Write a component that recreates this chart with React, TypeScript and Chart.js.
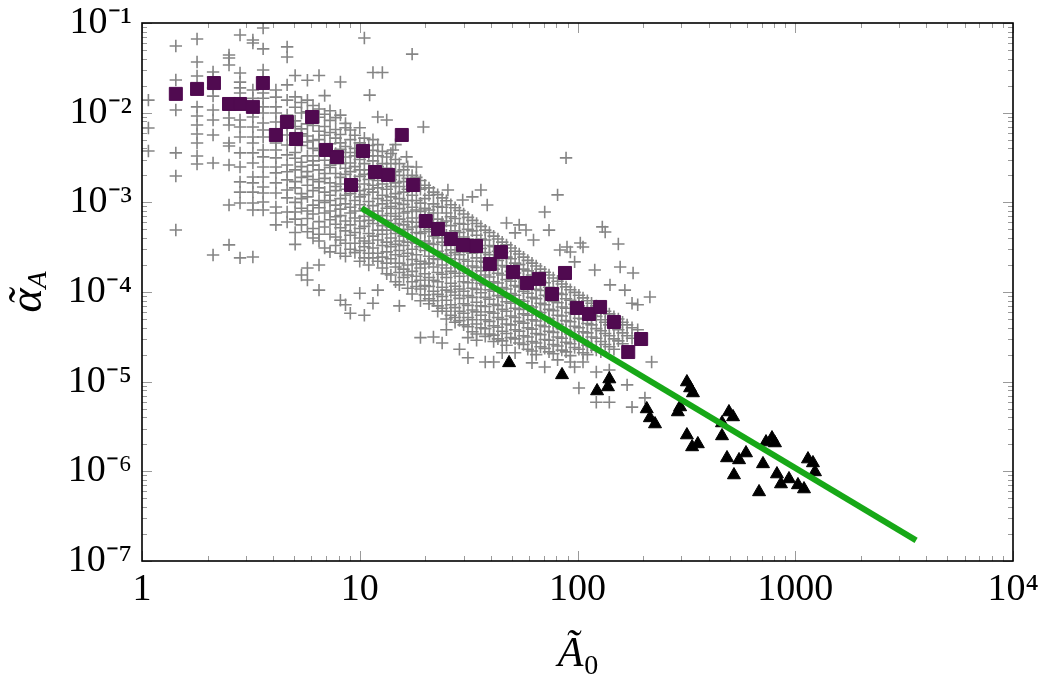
import React, { useEffect, useRef } from 'react';
import { Chart, registerables } from 'chart.js';

Chart.register(...registerables);

// ---------- axis ticks ----------
const xTickValues = [1, 10, 100, 1000, 10000];
const xTickLabels = ['1', '10', '100', '1000', '10⁴'];
const yTickValues = [1e-7, 1e-6, 1e-5, 1e-4, 1e-3, 1e-2, 1e-1];
const yTickLabels = ['10⁻⁷', '10⁻⁶', '10⁻⁵', '10⁻⁴', '10⁻³', '10⁻²', '10⁻¹'];

const xTitleMain = 'Ã';
const xTitleSub = '0';
const yTitleMain = 'α';
const yTitleAccent = '˜';
const yTitleSub = 'A';

// ---------- purple squares ----------
const squareA0 = [1.43, 1.79, 2.14, 2.51, 2.82, 3.23, 3.59, 4.12, 4.63, 5.1, 6.04, 7.0, 7.86, 10.35, 9.12, 11.75, 13.5, 15.6, 17.6, 20.1, 22.9, 26.2, 29.8, 34.2, 44.5, 39.6, 50.6, 58.6, 66.6, 87.6, 76.4, 99.5, 113, 127, 147, 196, 171];
const squareAlpha = [0.0162, 0.0184, 0.0214, 0.0125, 0.0125, 0.0116, 0.0214, 0.00564, 0.00787, 0.00509, 0.00895, 0.00384, 0.0032, 0.00374, 0.00156, 0.00218, 0.00202, 0.00564, 0.00156, 6.19e-4, 5.04e-4, 3.9e-4, 3.34e-4, 3.26e-4, 2.79e-4, 2.05e-4, 1.67e-4, 1.26e-4, 1.4e-4, 1.63e-4, 9.5e-5, 6.64e-5, 5.69e-5, 6.81e-5, 4.63e-5, 2.99e-5, 2.14e-5];

// ---------- black triangles ----------
const triangleA0 = [48.5, 84.9, 123, 140, 138, 208, 215, 227, 289, 296, 318, 329, 339, 318, 336, 357, 461, 461, 496, 518, 486, 523, 552, 594, 711, 682, 734, 782, 807, 824, 860, 936, 1029, 1097, 1144, 1206, 1232];
const triangleAlpha = [1.62e-5, 1.19e-5, 7.87e-6, 1.07e-5, 8.73e-6, 4.96e-6, 3.94e-6, 3.37e-6, 4.59e-6, 5.22e-6, 9.91e-6, 8.5e-6, 7.48e-6, 2.54e-6, 1.87e-6, 2.02e-6, 3.46e-6, 2.48e-6, 4.59e-6, 4.04e-6, 1.41e-6, 9.1e-7, 1.34e-6, 1.6e-6, 1.21e-6, 5.89e-7, 2.12e-6, 2.35e-6, 2.07e-6, 9.33e-7, 7.22e-7, 8.22e-7, 7.05e-7, 6.35e-7, 1.37e-6, 1.24e-6, 9.84e-7];

// ---------- green fit line ----------
const fitA0 = [10.2, 3590];
const fitAlpha = [8.6e-4, 1.7e-7];

// ---------- grey crosses: [A0, [alpha values at that A0]] ----------
const crossColumns: [number, number[]][] = [
  [1.07, [1.38e-2, 6.75e-3, 3.74e-3]],
  [1.43, [5.55e-2, 2.31e-2, 1.07e-2, 3.56e-3, 1.97e-3, 4.92e-4]],
  [1.79, [6.63e-2, 3.68e-2, 2.56e-2, 1.16e-2, 9.18e-3, 7.29e-3, 5.79e-3, 4.59e-3, 3.29e-3, 2.68e-3]],
  [2.12, [2.84e-2, 2.5e-2, 1.89e-2, 1.53e-2, 1.07e-2, 8.28e-3, 5.64e-3, 2.75e-3, 2.59e-4]],
  [2.51, [4.4e-2, 4.07e-2, 3.4e-2, 1.07e-2, 8.72e-3, 7.29e-3, 4.59e-3, 4.25e-3, 2.61e-3, 9.35e-4, 3.35e-4]],
  [2.82, [7.35e-2, 2.77e-2, 2.19e-2, 1.89e-2, 1.66e-2, 8.28e-3, 6.93e-3, 5.36e-3, 3.56e-3, 2.48e-3, 1.69e-3, 1.3e-3, 9.82e-4, 2.4e-4]],
  [3.23, [6.46e-2, 5.98e-2, 1.79e-2, 1.45e-2, 1.07e-2, 8.95e-3, 6.93e-3, 5.36e-3, 4.59e-3, 3.56e-3, 2.75e-3, 1.92e-3, 1.65e-3, 1.3e-3, 9.82e-4, 8.22e-4, 2.46e-4]],
  [3.6, [8.8e-2, 5.14e-2, 2.99e-2, 2.5e-2, 1.66e-2, 1.45e-2, 1.16e-2, 9.91e-3, 7.67e-3, 6.41e-3, 5.36e-3, 3.84e-3, 3.21e-3, 2.48e-3, 1.92e-3, 1.48e-3, 1.27e-3, 1.01e-3, 8.22e-4]],
  [4.12, [1.79e-2, 1.49e-2, 1.16e-2, 9.91e-3, 7.87e-3, 4.59e-3, 3.84e-3, 3.13e-3, 2.48e-3, 2.13e-3, 1.65e-3, 1.27e-3, 8.88e-4, 7.61e-4, 5.6e-4]],
  [4.64, [5.41e-2, 4.18e-2, 2.04e-2, 1.38e-2, 9.42e-3, 7.29e-3, 5.64e-3, 4.36e-3, 3.38e-3, 2.61e-3, 2.19e-3, 1.78e-3, 1.37e-3, 1.12e-3, 7.81e-4, 6.04e-4]],
  [5.05, [2.6e-2, 1.5e-2, 1.15e-2, 8.1e-3, 7.0e-3, 5.2e-3, 3.6e-3, 3.1e-3, 2.3e-3, 1.7e-3, 1.45e-3, 1.0e-3, 7.8e-4, 6.5e-4, 4.6e-4, 3.4e-4]],
  [5.4, [1.3e-2, 9.9e-3, 6.6e-3, 5.8e-3, 4.3e-3, 2.8e-3, 2.5e-3, 1.9e-3, 1.25e-3, 1.1e-3, 8.6e-4, 5.6e-4, 1.55e-4]],
  [5.75, [2.3e-2, 1.38e-2, 1.02e-2, 7.5e-3, 5.5e-3, 4.7e-3, 3.3e-3, 2.2e-3, 1.95e-3, 1.55e-3, 1.15e-3, 8.0e-4, 6.6e-4, 4.7e-4, 1.85e-4, 1.36e-4]],
  [6.1, [1.2e-2, 8.6e-3, 7.2e-3, 4.9e-3, 4.0e-3, 2.9e-3, 2.6e-3, 1.8e-3, 1.35e-3, 9.3e-4, 7.4e-4, 5.1e-4, 4.0e-4]],
  [6.5, [2.6e-2, 1.1e-2, 8.9e-3, 6.2e-3, 5.0e-3, 3.8e-3, 3.3e-3, 2.3e-3, 1.7e-3, 1.45e-3, 1.05e-3, 8.7e-4, 6.1e-4, 4.4e-4, 3.7e-4, 2.0e-4, 1.05e-4]],
  [6.9, [1.55e-2, 9.6e-3, 7.0e-3, 5.6e-3, 4.2e-3, 2.95e-3, 2.1e-3, 1.85e-3, 1.3e-3, 1.0e-3, 7.6e-4, 5.3e-4, 3.1e-4]],
  [7.3, [1.05e-2, 8.2e-3, 6.0e-3, 4.5e-3, 3.7e-3, 2.6e-3, 2.45e-3, 1.65e-3, 1.2e-3, 1.05e-3, 8.0e-4, 6.4e-4, 4.4e-4, 2.8e-4]],
  [7.75, [8.8e-3, 6.5e-3, 5.2e-3, 3.5e-3, 3.0e-3, 2.1e-3, 1.5e-3, 1.35e-3, 9.3e-4, 6.9e-4, 5.7e-4, 4.1e-4, 3.3e-4]],
  [8.15, [2.2e-2, 9.4e-3, 5.7e-3, 4.6e-3, 3.9e-3, 2.7e-3, 1.9e-3, 1.6e-3, 1.1e-3, 8.4e-4, 7.1e-4, 5.2e-4, 3.8e-4, 2.7e-4, 8.1e-5]],
  [8.6, [7.6e-3, 6.8e-3, 4.2e-3, 3.2e-3, 2.4e-3, 2.05e-3, 1.4e-3, 1.2e-3, 9.6e-4, 6.2e-4, 4.8e-4, 3.5e-4, 2.5e-4, 7.2e-5]],
  [9.05, [6.4e-3, 5.0e-3, 3.6e-3, 2.75e-3, 2.2e-3, 1.7e-3, 1.25e-3, 8.8e-4, 7.6e-4, 5.6e-4, 4.3e-4, 3.0e-4, 5.8e-5]],
  [9.5, [5.6e-3, 4.0e-3, 3.3e-3, 2.5e-3, 1.75e-3, 1.48e-3, 1.05e-3, 8.0e-4, 6.7e-4, 4.6e-4, 3.5e-4, 2.75e-4]],
  [10.0, [6.8e-3, 4.6e-3, 3.0e-3, 2.3e-3, 1.95e-3, 1.35e-3, 1.15e-3, 9.4e-4, 6.2e-4, 5.1e-4, 4.0e-4, 2.9e-4, 2.2e-4, 9.7e-5]],
  [10.5, [6.8e-2, 5.2e-3, 3.6e-3, 2.7e-3, 2.05e-3, 1.6e-3, 1.22e-3, 8.5e-4, 7.0e-4, 5.4e-4, 3.7e-4, 3.2e-4, 2.4e-4, 5.5e-5]],
  [11.0, [4.3e-3, 3.3e-3, 2.3e-3, 1.8e-3, 1.4e-3, 1.02e-3, 7.8e-4, 6.3e-4, 4.5e-4, 3.5e-4, 2.7e-4, 2.0e-4]],
  [11.1, [1.57e-2]],
  [11.5, [2.8e-2, 5.0e-3, 3.8e-3, 2.9e-3, 2.1e-3, 1.55e-3, 1.3e-3, 9.2e-4, 6.9e-4, 5.8e-4, 4.2e-4, 3.1e-4, 2.4e-4, 7.5e-5]],
  [12.1, [8.95e-3, 4.4e-3, 3.3e-3, 2.5e-3, 1.75e-3, 1.45e-3, 1.1e-3, 8.0e-4, 6.6e-4, 4.9e-4, 3.8e-4, 2.7e-4, 2.2e-4, 1.05e-4]],
  [12.7, [2.8e-2, 3.7e-3, 2.7e-3, 2.15e-3, 1.6e-3, 1.2e-3, 9.6e-4, 7.1e-4, 5.5e-4, 4.4e-4, 3.3e-4, 2.45e-4, 1.85e-4]],
  [13.3, [8.28e-3, 3.2e-3, 2.4e-3, 1.95e-3, 1.4e-3, 1.05e-3, 8.6e-4, 6.3e-4, 4.9e-4, 3.6e-4, 2.8e-4, 2.1e-4, 1.6e-4]],
  [13.9, [3.5e-3, 2.7e-3, 1.8e-3, 1.5e-3, 1.15e-3, 9.0e-4, 7.5e-4, 5.3e-4, 4.0e-4, 3.2e-4, 2.35e-4, 1.55e-4]],
  [14.2, [3.84e-3]],
  [14.6, [4.4e-3, 3.0e-3, 2.2e-3, 1.65e-3, 1.25e-3, 9.8e-4, 7.0e-4, 5.8e-4, 4.5e-4, 3.4e-4, 2.6e-4, 1.9e-4, 1.3e-4]],
  [15.2, [2.7e-3, 2.0e-3, 1.5e-3, 1.1e-3, 8.5e-4, 6.5e-4, 4.8e-4, 3.7e-4, 2.9e-4, 2.1e-4, 1.65e-4, 1.2e-4, 7.0e-5]],
  [15.9, [2.3e-3, 1.7e-3, 1.3e-3, 9.5e-4, 7.6e-4, 5.6e-4, 4.2e-4, 3.3e-4, 2.5e-4, 1.8e-4, 1.45e-4]],
  [16.4, [3.21e-3]],
  [16.6, [2.5e-3, 1.85e-3, 1.4e-3, 1.05e-3, 7.9e-4, 6.1e-4, 5.0e-4, 3.6e-4, 2.7e-4, 2.0e-4, 1.55e-4, 1.1e-4]],
  [17.4, [4.5e-2, 2.0e-3, 1.55e-3, 1.2e-3, 8.8e-4, 6.7e-4, 5.3e-4, 3.9e-4, 3.0e-4, 2.3e-4, 1.7e-4, 1.3e-4, 9.5e-5]],
  [18.2, [2.48e-3, 1.9e-3, 1.45e-3, 1.05e-3, 8.2e-4, 6.0e-4, 4.6e-4, 3.5e-4, 2.6e-4, 2.05e-4, 1.5e-4, 1.15e-4]],
  [19.0, [1.75e-3, 1.4e-3, 9.8e-4, 7.9e-4, 5.4e-4, 4.5e-4, 3.2e-4, 2.2e-4, 1.85e-4, 1.35e-4, 1.08e-4, 8.0e-5, 3.1e-5]],
  [19.6, [6.93e-3]],
  [19.9, [1.55e-3, 1.1e-3, 8.6e-4, 6.8e-4, 4.7e-4, 3.7e-4, 2.9e-4, 2.05e-4, 1.6e-4, 1.18e-4, 9.3e-5]],
  [20.8, [1.45e-3, 1.2e-3, 8.2e-4, 5.9e-4, 5.0e-4, 3.5e-4, 2.5e-4, 2.1e-4, 1.45e-4, 1.15e-4, 8.4e-5, 7.4e-5]],
  [21.8, [1.3e-3, 9.6e-4, 7.6e-4, 5.5e-4, 4.2e-4, 3.4e-4, 2.35e-4, 1.9e-4, 1.35e-4, 1.02e-4, 8.0e-5, 3.15e-5]],
  [22.8, [1.22e-3, 9.0e-4, 6.5e-4, 5.1e-4, 4.0e-4, 2.85e-4, 2.3e-4, 1.65e-4, 1.3e-4, 9.4e-5, 7.0e-5, 6.1e-5]],
  [23.9, [1.12e-3, 8.8e-4, 6.0e-4, 4.6e-4, 3.6e-4, 2.65e-4, 2.0e-4, 1.58e-4, 1.13e-4, 8.9e-5, 6.6e-5, 2.7e-5]],
  [25.0, [1.04e-3, 7.6e-4, 6.2e-4, 4.3e-4, 3.3e-4, 2.55e-4, 1.85e-4, 1.45e-4, 1.05e-4, 8.1e-5, 6.1e-5, 5.0e-5, 3.8e-5]],
  [25.4, [1.37e-3]],
  [26.2, [9.4e-4, 6.9e-4, 5.5e-4, 4.0e-4, 2.95e-4, 2.35e-4, 1.7e-4, 1.25e-4, 1.0e-4, 7.2e-5, 5.5e-5]],
  [27.4, [8.7e-4, 6.6e-4, 4.8e-4, 3.8e-4, 2.75e-4, 2.1e-4, 1.62e-4, 1.16e-4, 9.2e-5, 6.7e-5, 5.2e-5, 4.6e-5]],
  [28.7, [8.1e-4, 5.8e-4, 4.6e-4, 3.3e-4, 2.6e-4, 1.9e-4, 1.5e-4, 1.08e-4, 8.5e-5, 6.1e-5, 4.8e-5, 2.3e-5]],
  [29.7, [1.06e-3]],
  [30.0, [7.4e-4, 5.7e-4, 4.1e-4, 3.2e-4, 2.3e-4, 1.8e-4, 1.3e-4, 1.02e-4, 7.4e-5, 5.8e-5, 4.3e-5]],
  [31.4, [6.8e-4, 5.0e-4, 3.9e-4, 2.8e-4, 2.2e-4, 1.62e-4, 1.27e-4, 9.1e-5, 7.1e-5, 5.2e-5, 4.1e-5, 3.1e-5, 1.85e-5]],
  [32.9, [1.15e-3, 6.3e-4, 4.8e-4, 3.4e-4, 2.7e-4, 1.95e-4, 1.52e-4, 1.1e-4, 8.7e-5, 6.3e-5, 4.9e-5, 3.6e-5]],
  [34.4, [5.8e-4, 4.3e-4, 3.3e-4, 2.4e-4, 1.88e-4, 1.36e-4, 1.07e-4, 7.7e-5, 6.0e-5, 4.4e-5, 3.4e-5, 2.9e-5]],
  [36.0, [1.37e-3, 5.4e-4, 3.9e-4, 3.05e-4, 2.2e-4, 1.72e-4, 1.25e-4, 9.8e-5, 7.0e-5, 5.5e-5, 4.0e-5]],
  [37.7, [4.9e-4, 3.8e-4, 2.75e-4, 2.15e-4, 1.55e-4, 1.2e-4, 8.7e-5, 6.9e-5, 4.9e-5, 3.9e-5, 3.2e-5, 1.66e-5]],
  [38.5, [9.35e-4]],
  [39.4, [4.6e-4, 3.3e-4, 2.6e-4, 1.88e-4, 1.47e-4, 1.06e-4, 8.3e-5, 6.0e-5, 4.7e-5, 3.4e-5]],
  [41.2, [4.2e-4, 3.2e-4, 2.3e-4, 1.8e-4, 1.3e-4, 1.02e-4, 7.3e-5, 5.8e-5, 4.2e-5, 3.3e-5, 2.8e-5, 1.66e-5]],
  [43.1, [3.9e-4, 2.85e-4, 2.25e-4, 1.62e-4, 1.26e-4, 9.1e-5, 7.1e-5, 5.2e-5, 4.05e-5, 3.0e-5]],
  [45.1, [3.6e-4, 2.75e-4, 1.97e-4, 1.55e-4, 1.12e-4, 8.7e-5, 6.4e-5, 4.95e-5, 3.65e-5, 2.85e-5, 2.1e-5]],
  [47.2, [5.89e-4, 3.35e-4, 2.45e-4, 1.9e-4, 1.38e-4, 1.08e-4, 7.8e-5, 6.1e-5, 4.4e-5, 3.45e-5, 2.55e-5]],
  [49.4, [3.1e-4, 2.35e-4, 1.7e-4, 1.32e-4, 9.6e-5, 7.5e-5, 5.4e-5, 4.3e-5, 3.1e-5]],
  [51.7, [4.56e-4, 2.85e-4, 2.1e-4, 1.63e-4, 1.18e-4, 9.2e-5, 6.6e-5, 5.2e-5, 3.8e-5, 3.0e-5, 2.1e-5]],
  [54.0, [5.6e-4, 2.65e-4, 2.02e-4, 1.47e-4, 1.14e-4, 8.2e-5, 6.4e-5, 4.7e-5, 3.65e-5, 2.7e-5]],
  [56.5, [2.45e-4, 1.8e-4, 1.4e-4, 1.02e-4, 7.9e-5, 5.7e-5, 4.5e-5, 3.25e-5, 2.6e-5]],
  [58.0, [4.92e-4]],
  [59.1, [2.25e-4, 1.72e-4, 1.25e-4, 9.7e-5, 7.0e-5, 5.5e-5, 4.0e-5, 3.15e-5, 2.3e-5]],
  [61.8, [2.1e-4, 1.55e-4, 1.2e-4, 8.7e-5, 6.8e-5, 4.9e-5, 3.85e-5, 2.8e-5, 2.2e-5, 1.62e-5]],
  [62.8, [3.8e-4]],
  [64.6, [1.95e-4, 1.48e-4, 1.07e-4, 8.4e-5, 6.1e-5, 4.75e-5, 3.45e-5, 2.7e-5, 2.0e-5]],
  [67.6, [1.8e-4, 1.32e-4, 1.04e-4, 7.5e-5, 5.9e-5, 4.25e-5, 3.35e-5, 2.45e-5]],
  [70.7, [7.8e-4, 1.66e-4, 1.27e-4, 9.2e-5, 7.2e-5, 5.2e-5, 4.1e-5, 2.95e-5, 2.35e-5, 1.46e-5]],
  [74.0, [4.9e-4, 1.55e-4, 1.13e-4, 8.9e-5, 6.4e-5, 5.05e-5, 3.65e-5, 2.9e-5, 2.15e-5]],
  [77.4, [1.43e-4, 1.09e-4, 7.9e-5, 6.2e-5, 4.5e-5, 3.55e-5, 2.6e-5, 2.05e-5]],
  [81.0, [1.21e-3, 1.32e-4, 9.7e-5, 7.6e-5, 5.5e-5, 4.35e-5, 3.15e-5, 2.5e-5, 1.75e-5]],
  [83.0, [2.94e-4]],
  [84.7, [1.23e-4, 9.4e-5, 6.8e-5, 5.4e-5, 3.9e-5, 3.05e-5, 2.25e-5]],
  [88.6, [3.13e-3, 1.14e-4, 8.4e-5, 6.6e-5, 4.8e-5, 3.75e-5, 2.75e-5, 2.15e-5]],
  [89.5, [3.18e-4]],
  [92.7, [2.79e-4, 1.06e-4, 8.1e-5, 5.9e-5, 4.65e-5, 3.4e-5, 2.65e-5, 1.95e-5, 1.66e-5]],
  [97.0, [2.17e-4, 9.9e-5, 7.3e-5, 5.7e-5, 4.15e-5, 3.25e-5, 2.4e-5, 1.46e-5]],
  [101.5, [9.2e-5, 7.0e-5, 5.1e-5, 4.0e-5, 2.95e-5, 2.3e-5, 8.5e-6]],
  [103, [3.52e-4]],
  [106, [3.18e-4, 8.6e-5, 6.4e-5, 5.0e-5, 3.6e-5, 2.85e-5, 2.1e-5, 1.66e-5]],
  [111, [8.0e-5, 6.1e-5, 4.45e-5, 3.5e-5, 2.55e-5, 2.0e-5]],
  [116, [7.5e-5, 5.5e-5, 4.3e-5, 3.15e-5, 2.45e-5]],
  [120, [1.76e-4]],
  [122, [7.0e-5, 5.35e-5, 3.9e-5, 3.05e-5, 2.25e-5, 1.28e-5, 5.9e-6]],
  [128, [6.5e-5, 4.9e-5, 3.7e-5, 2.8e-5, 2.15e-5]],
  [130, [5.32e-4]],
  [134, [4.67e-4, 6.1e-5, 4.6e-5, 3.45e-5, 2.6e-5]],
  [140, [5.7e-5, 4.3e-5, 3.25e-5, 2.45e-5, 1.35e-5, 5.9e-6]],
  [141, [1.2e-4]],
  [147, [5.3e-5, 4.0e-5, 3.0e-5, 2.3e-5]],
  [154, [3.43e-4, 5.0e-5, 3.8e-5, 2.85e-5]],
  [157, [1.9e-4]],
  [161, [4.6e-5, 3.5e-5, 2.65e-5]],
  [165, [1.05e-4]],
  [169, [4.3e-5, 3.25e-5, 9.2e-6]],
  [178, [7.5e-5, 4.0e-5, 3.05e-5, 5.2e-6]],
  [180, [1.63e-4]],
  [189, [7.2e-5, 3.8e-5]],
  [204, [6.6e-6]],
  [215, [8.8e-5]],
  [219, [1.66e-5]],
];

const SERIF = '"Liberation Serif", "Times New Roman", serif';

const framePlugin = {
  id: 'frameAndTitles',
  afterDraw(chart: any) {
    const { ctx, chartArea: a, scales } = chart;
    const xs = scales.x;
    const ys = scales.y;
    ctx.save();
    // inward ticks on all four sides
    ctx.strokeStyle = '#9a9a9a';
    ctx.lineWidth = 1;
    ctx.beginPath();
    for (let e = 0; e <= 4; e++) {
      for (let m = 1; m <= 9; m++) {
        const v = m * Math.pow(10, e);
        if (v > 10000) break;
        const px = Math.round(xs.getPixelForValue(v)) + 0.5;
        const len = m === 1 ? 10 : 5;
        ctx.moveTo(px, a.bottom);
        ctx.lineTo(px, a.bottom - len);
        ctx.moveTo(px, a.top);
        ctx.lineTo(px, a.top + len);
      }
    }
    for (let e = -7; e <= -1; e++) {
      for (let m = 1; m <= 9; m++) {
        const v = m * Math.pow(10, e);
        if (v > 0.1 * 1.0001) break;
        const py = Math.round(ys.getPixelForValue(v)) + 0.5;
        const len = m === 1 ? 10 : 5;
        ctx.moveTo(a.left, py);
        ctx.lineTo(a.left + len, py);
        ctx.moveTo(a.right, py);
        ctx.lineTo(a.right - len, py);
      }
    }
    ctx.stroke();
    // frame
    ctx.strokeStyle = '#000';
    ctx.lineWidth = 1.6;
    ctx.strokeRect(a.left, a.top, a.right - a.left, a.bottom - a.top);

    ctx.fillStyle = '#000';
    ctx.textBaseline = 'alphabetic';
    ctx.textAlign = 'left';
    // x title
    const xMainFont = `italic 42px ${SERIF}`;
    const xSubFont = `28px ${SERIF}`;
    ctx.font = xMainFont;
    const xw1 = ctx.measureText(xTitleMain).width;
    ctx.font = xSubFont;
    const xw2 = ctx.measureText(xTitleSub).width;
    const xc = (a.left + a.right) / 2;
    const xStart = xc - (xw1 + xw2) / 2;
    ctx.font = xMainFont;
    ctx.fillText(xTitleMain, xStart, 666);
    ctx.font = xSubFont;
    ctx.fillText(xTitleSub, xStart + xw1 + 1, 674);

    // y title (rotated)
    ctx.translate(28, (a.top + a.bottom) / 2);
    ctx.rotate(-Math.PI / 2);
    const yMainFont = `italic 46px ${SERIF}`;
    const ySubFont = `italic 28px ${SERIF}`;
    ctx.font = yMainFont;
    const yw1 = ctx.measureText(yTitleMain).width;
    ctx.font = ySubFont;
    const yw2 = ctx.measureText(yTitleSub).width;
    const yStart = -(yw1 + yw2) / 2;
    ctx.font = yMainFont;
    ctx.fillText(yTitleMain, yStart, 13);
    ctx.textAlign = 'center';
    ctx.fillText(yTitleAccent, yStart + yw1 / 2 + 3, 13);
    ctx.textAlign = 'left';
    ctx.font = ySubFont;
    ctx.fillText(yTitleSub, yStart + yw1, 18);
    ctx.restore();
  },
};

export default function App() {
  const canvasRef = useRef<HTMLCanvasElement | null>(null);

  useEffect(() => {
    document.body.style.margin = '0';
    document.body.style.overflow = 'hidden';
    const canvas = canvasRef.current;
    if (!canvas) return;

    const crossData = crossColumns.flatMap(([x, ys]) => ys.map((y) => ({ x, y })));
    const squareData = squareA0.map((x, i) => ({ x, y: squareAlpha[i] }));
    const triangleData = triangleA0.map((x, i) => ({ x, y: triangleAlpha[i] }));
    const fitData = fitA0.map((x, i) => ({ x, y: fitAlpha[i] }));

    const tickFont = { family: SERIF, size: 38 };

    const chart = new Chart(canvas, {
      type: 'scatter',
      data: {
        datasets: [
          {
            label: 'fit',
            data: fitData,
            showLine: true,
            borderColor: '#17a817',
            borderWidth: 6,
            pointRadius: 0,
            fill: false,
          },
          {
            label: 'triangles',
            data: triangleData,
            pointStyle: 'triangle',
            pointRadius: 7.5,
            pointBackgroundColor: '#000',
            pointBorderColor: '#000',
            pointBorderWidth: 1,
          },
          {
            label: 'squares',
            data: squareData,
            pointStyle: 'rect',
            pointRadius: 9.2,
            pointBackgroundColor: '#500a50',
            pointBorderColor: '#500a50',
            pointBorderWidth: 1,
          },
          {
            label: 'crosses',
            data: crossData,
            pointStyle: 'cross',
            pointRadius: 6.2,
            pointBorderColor: '#858585',
            pointBorderWidth: 1.6,
          },
        ],
      } as any,
      options: {
        animation: false,
        responsive: true,
        maintainAspectRatio: false,
        events: [],
        layout: { padding: { top: 23, right: 29, left: 0, bottom: 0 } },
        plugins: { legend: { display: false }, tooltip: { enabled: false } },
        scales: {
          x: {
            type: 'logarithmic',
            min: 1,
            max: 10000,
            grid: { display: false, drawTicks: false },
            border: { display: false },
            ticks: {
              padding: 6,
              font: tickFont,
              color: '#000',
              autoSkip: false,
              maxRotation: 0,
              callback: (v: any) => {
                const i = xTickValues.indexOf(Number(v));
                return i >= 0 ? xTickLabels[i] : '';
              },
            },
            afterBuildTicks: (s: any) => {
              s.ticks = xTickValues.map((value) => ({ value }));
            },
            afterFit: (s: any) => {
              s.height = 117;
              s.paddingLeft = 0;
              s.paddingRight = 0;
            },
          },
          y: {
            type: 'logarithmic',
            min: 1e-7,
            max: 1e-1,
            grid: { display: false, drawTicks: false },
            border: { display: false },
            ticks: {
              padding: 10,
              font: tickFont,
              color: '#000',
              autoSkip: false,
              callback: (v: any) => {
                const i = yTickValues.indexOf(Number(v));
                return i >= 0 ? yTickLabels[i] : '';
              },
            },
            afterBuildTicks: (s: any) => {
              s.ticks = yTickValues.map((value) => ({ value }));
            },
            afterFit: (s: any) => {
              s.width = 142;
              s.paddingTop = 0;
              s.paddingBottom = 0;
            },
          },
        },
      } as any,
      plugins: [framePlugin],
    });

    return () => chart.destroy();
  }, []);

  return (
    <div style={{ width: 1042, height: 678, position: 'relative' }}>
      <canvas ref={canvasRef} />
    </div>
  );
}
